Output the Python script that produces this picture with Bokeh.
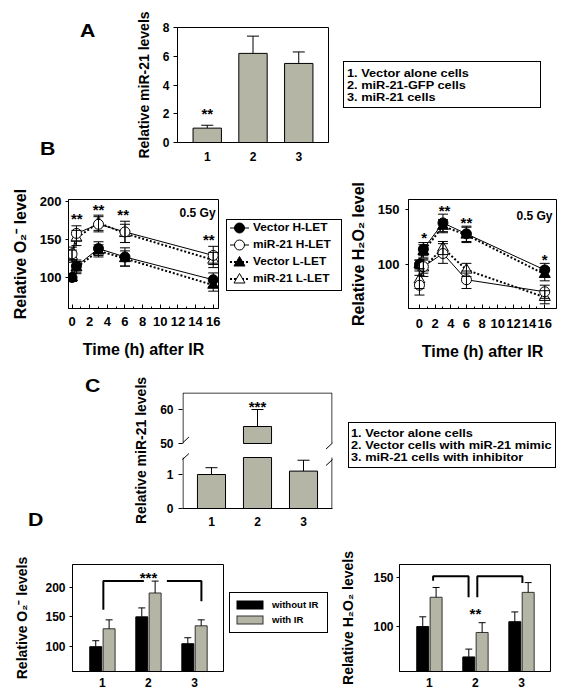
from bokeh.plotting import figure
from bokeh.models import (Range1d, FixedTicker, Whisker, TeeHead, Arrow, ColumnDataSource,
                          Div, Spacer)
from bokeh.layouts import row, column
from bokeh.embed import file_html
from bokeh.resources import INLINE
from bokeh.core.properties import value

FONT = "Liberation Sans"
GREY = "#B5B5A6"

# ---------------- Panel A ----------------
a_groups = [1, 2, 3]
a_tick_labels = ["1", "2", "3"]
a_values = [1.0, 6.2, 5.5]
a_errors = [0.2, 1.2, 0.8]
a_yticks = [0, 2, 4, 6, 8]
a_legend_lines = ["1. Vector alone cells", "2. miR-21-GFP cells", "3. miR-21 cells"]
a_sig_x = [1]
a_sig_y = [2.3]
a_sig = ["**"]

# ---------------- Panel B ----------------
b_time = [0, 0.5, 3, 6, 16]
b_xticks = [0, 2, 4, 6, 8, 10, 12, 14, 16]
b_xminor = [1, 3, 5, 7, 9, 11, 13, 15]
b_series = ["Vector H-LET", "miR-21 H-LET", "Vector L-LET", "miR-21 L-LET"]

o2_vec_h = [100, 115, 138, 127, 97]
o2_vec_h_err = [5, 8, 9, 12, 9]
o2_mir_h = [131, 158, 170, 160, 129]
o2_mir_h_err = [9, 10, 10, 14, 12]
o2_vec_l = [100, 113, 135, 125, 90]
o2_vec_l_err = [5, 8, 8, 10, 8]
o2_mir_l = [128, 152, 172, 158, 123]
o2_mir_l_err = [8, 10, 10, 12, 10]
o2_yticks = [100, 150, 200]
o2_sig_t = [0.54, 3.0, 5.8, 15.5]
o2_sig_y = [183, 195, 188, 155]
o2_sig = ["**", "**", "**", "**"]

h2_vec_h = [100, 114, 138, 128, 95]
h2_vec_h_err = [4, 6, 8, 7, 6]
h2_mir_h = [81, 98, 110, 86, 75]
h2_mir_h_err = [9, 6, 9, 8, 6]
h2_vec_l = [100, 112, 135, 127, 91]
h2_vec_l_err = [4, 6, 6, 7, 6]
h2_mir_l = [86, 97, 115, 95, 70]
h2_mir_l_err = [8, 8, 6, 6, 6]
h2_yticks = [100, 150]
h2_sig_t = [0.6, 3.2, 6.0, 16.0]
h2_sig_y = [128, 153, 142, 108]
h2_sig = ["*", "**", "**", "*"]
dose_text = "0.5 Gy"

# ---------------- Panel C ----------------
c_groups = [1, 2, 3]
c_tick_labels = ["1", "2", "3"]
c_values = [1.0, 55.0, 1.1]
c_errors = [0.2, 5.0, 0.32]
c_yticks = [0, 1, 50, 60]
c_legend_lines = ["1. Vector alone cells", "2. Vector cells with miR-21 mimic",
                  "3. miR-21 cells with inhibitor"]
c_sig_x = [2]
c_sig_y = [62]
c_sig = ["***"]

# ---------------- Panel D ----------------
d_groups = [1, 2, 3]
d_tick_labels = ["1", "2", "3"]
d_series = ["without IR", "with IR"]
d_o2_without = [100, 150, 105]
d_o2_without_err = [10, 15, 10]
d_o2_with = [130, 190, 135]
d_o2_with_err = [15, 20, 10]
d_o2_yticks = [100, 150, 200]
d_o2_bracket_x = [[1.02, 1.02, 1.9], [2.4, 3.15, 3.15]]
d_o2_bracket_y = [[162, 210, 210], [210, 210, 176]]
d_o2_sig_x, d_o2_sig_y, d_o2_sig = [2.0], [223], ["***"]

d_h2_without = [100, 69, 105]
d_h2_without_err = [10, 8, 10]
d_h2_with = [130, 94, 135]
d_h2_with_err = [10, 10, 10]
d_h2_yticks = [100, 150]
d_h2_bracket_x = [[1.08, 1.08, 1.85, 1.85], [2.04, 2.04, 3.02, 3.02]]
d_h2_bracket_y = [[147, 151.5, 151.5, 130], [130, 151.5, 151.5, 144.6]]
d_h2_sig_x, d_h2_sig_y, d_h2_sig = [2.0], [117], ["**"]

panel_letters = ["A", "B", "C", "D"]


# ---------------- helpers ----------------
def base_fig(width, height, xr, yr, bl, br, bt, bb):
    p = figure(width=width, height=height, x_range=Range1d(*xr), y_range=Range1d(*yr),
               min_border_left=bl, min_border_right=br, min_border_top=bt,
               min_border_bottom=bb, toolbar_location=None, output_backend="svg",
               title=None)
    p.grid.visible = False
    p.outline_line_color = "black"
    p.outline_line_width = 1
    p.outline_line_alpha = 1
    p.background_fill_color = "white"
    p.border_fill_color = "white"
    return p


def style_axis(ax, size, tick_in=0, tick_out=0, minor_in=0, minor_out=0, standoff=5,
               label=None, label_size=13, label_standoff=5):
    ax.major_label_text_font = FONT
    ax.major_label_text_font_style = "bold"
    ax.major_label_text_font_size = f"{size}px"
    ax.major_label_text_color = "black"
    ax.major_tick_in = tick_in
    ax.major_tick_out = tick_out
    ax.minor_tick_in = minor_in
    ax.minor_tick_out = minor_out
    ax.major_label_standoff = standoff
    ax.axis_line_color = "black"
    ax.major_tick_line_color = "black"
    ax.minor_tick_line_color = "black"
    if label is not None:
        ax.axis_label = label
        ax.axis_label_text_font = FONT
        ax.axis_label_text_font_style = "bold"
        ax.axis_label_text_font_size = f"{label_size}px"
        ax.axis_label_text_color = "black"
        ax.axis_label_standoff = label_standoff


def add_text(p, xs, ys, texts, size, align="center", baseline="middle", y_offset=0):
    p.text(x=xs, y=ys, text=texts, text_font=value(FONT), text_font_style="bold",
           text_font_size=f"{size}px", text_align=align, text_baseline=baseline,
           text_color="black", y_offset=y_offset)


def add_err(p, xs, lo, hi, head, both=False, lw=1):
    src = ColumnDataSource(dict(x=list(xs), lo=list(lo), hi=list(hi)))
    w = Whisker(source=src, base="x", lower="lo", upper="hi", dimension="height",
                line_color="black", line_width=lw,
                upper_head=TeeHead(size=head, line_color="black", line_width=lw),
                lower_head=TeeHead(size=head, line_color="black", line_width=lw) if both else None)
    w.level = "annotation"
    p.add_layout(w)


CSS_FONT = "font-family:'Liberation Sans',Arial,sans-serif;font-weight:bold;color:#000;"


def span(text, left, center_y, size, sx=1.0):
    top = center_y - size / 2.0
    return (f'<span style="position:absolute;left:{left}px;top:{top}px;font-size:{size}px;'
            f'line-height:{size}px;white-space:nowrap;display:inline-block;'
            f'transform:scaleX({sx});transform-origin:0 50%;{CSS_FONT}">{text}</span>')


def box(left, top, w, h):
    return (f'<div style="position:absolute;left:{left}px;top:{top}px;width:{w}px;height:{h}px;'
            f'border:1px solid #000;box-sizing:border-box;background:#fff;"></div>')


def overlay_div(width, height, inner):
    html = (f'<div style="position:relative;width:{width}px;height:{height}px;overflow:visible;'
            f'{CSS_FONT}">{inner}</div>')
    return Div(text=html, width=width, height=height, margin=0)


# ================= Panel A =================
pA = base_fig(215, 158, (0.35, 3.65), (0, 8), 57, 7, 19, 24)
pA.vbar(x=a_groups, top=a_values, bottom=0, width=0.62, fill_color=GREY,
        line_color="black", line_width=1)
add_err(pA, a_groups, a_values, [v + e for v, e in zip(a_values, a_errors)], 12)
add_text(pA, a_sig_x, a_sig_y, a_sig, 15, y_offset=4)
pA.yaxis.ticker = FixedTicker(ticks=a_yticks)
pA.xaxis.ticker = FixedTicker(ticks=a_groups)
pA.xaxis.major_label_overrides = {g: t for g, t in zip(a_groups, a_tick_labels)}
style_axis(pA.yaxis[0], 12, tick_out=4, standoff=4, label="Relative miR-21 levels",
           label_size=14, label_standoff=8)
style_axis(pA.xaxis[0], 12, standoff=9)

lettersAB = overlay_div(112, 158, span(panel_letters[0], 72, 22, 19, 1.12) +
                        span(panel_letters[1], 32, 140, 19, 1.12))

legA_inner = box(8, 53, 198, 47) + "".join(
    span(t, 12, y, 11.6, 1.1) for t, y in zip(a_legend_lines, [65, 77, 89]))
legA = overlay_div(222, 158, legA_inner)


# ================= Panel B =================
def make_b(width, bl, br, bt, bb, xr, yr, yticks, ylabel, vh, vhe, mh, mhe, vl, vle, ml, mle,
           sig_t, sig_y, sig, dose_xy, ystand, xstand):
    p = base_fig(width, 196, xr, yr, bl, br, bt, bb)
    for vals in (vl, ml):
        p.line(b_time, vals, line_color="black", line_width=2, line_dash="2 2")
    for vals in (vh, mh):
        p.line(b_time, vals, line_color="black", line_width=1)
    specs = [(vl, vle, "triangle", "black", 11), (vh, vhe, "circle", "black", 10),
             (ml, mle, "triangle", "white", 11), (mh, mhe, "circle", "white", 10)]
    for vals, errs, m, fill, sz in specs:
        p.scatter(b_time, vals, marker=m, size=sz, fill_color=fill, line_color="black",
                  line_width=1)
        add_err(p, b_time, [v - e for v, e in zip(vals, errs)],
                [v + e for v, e in zip(vals, errs)], 10, both=True)
    add_text(p, sig_t, sig_y, sig, 15, y_offset=4)
    add_text(p, [dose_xy[0]], [dose_xy[1]], [dose_text], 12, align="right")
    p.xaxis.ticker = FixedTicker(ticks=b_xticks, minor_ticks=b_xminor)
    p.yaxis.ticker = FixedTicker(ticks=yticks)
    style_axis(p.xaxis[0], 13, tick_in=4, minor_in=2, standoff=xstand,
               label="Time (h) after IR", label_size=16, label_standoff=12)
    style_axis(p.yaxis[0], 13, tick_out=3, standoff=ystand, label=ylabel, label_size=16,
               label_standoff=8)
    return p


pBL = make_b(214, 57, 4, 33, 54, (-0.4, 16.6), (59.2, 202.6), o2_yticks,
             "Relative O\u2082\u207b level",
             o2_vec_h, o2_vec_h_err, o2_mir_h, o2_mir_h_err, o2_vec_l, o2_vec_l_err,
             o2_mir_l, o2_mir_l_err, o2_sig_t, o2_sig_y, o2_sig, (16.27, 184.2), 4, 8)
pBR = make_b(211, 60, 1, 30, 53, (-1.4, 17.5), (59.7, 159.4), h2_yticks,
             "Relative H\u2082O\u2082 level",
             h2_vec_h, h2_vec_h_err, h2_mir_h, h2_mir_h_err, h2_vec_l, h2_vec_l_err,
             h2_mir_l, h2_mir_l_err, h2_sig_t, h2_sig_y, h2_sig, (16.99, 144.4), 6, 10)

# legend B: icons drawn as inline SVG, labels as text
b_leg_styles = [("", 1, "circle", "#000"), ("", 1, "circle", "#fff"),
                ("2 2", 2, "triangle", "#000"), ("2 2", 2, "triangle", "#fff")]
b_rows = [62, 79, 96, 113]
svg_parts = []
for (dash, lw, m, fill), cy in zip(b_leg_styles, b_rows):
    da = f' stroke-dasharray="{dash}"' if dash else ""
    svg_parts.append(f'<line x1="8" y1="{cy}" x2="27" y2="{cy}" stroke="#000" '
                     f'stroke-width="{lw}"{da}/>')
    if m == "circle":
        svg_parts.append(f'<circle cx="17.5" cy="{cy}" r="5" fill="{fill}" stroke="#000" '
                         f'stroke-width="1"/>')
    else:
        svg_parts.append(f'<polygon points="17.5,{cy - 5.5} 12,{cy + 4} 23,{cy + 4}" '
                         f'fill="{fill}" stroke="#000" stroke-width="1"/>')
legB_inner = (box(4, 53, 116, 72) +
              '<svg width="124" height="196" style="position:absolute;left:0;top:0;">' +
              "".join(svg_parts) + "</svg>" +
              "".join(span(t, 31, y, 11.2, 1.06) for t, y in zip(b_series, b_rows)))
legB = overlay_div(124, 196, legB_inner)


# ================= Panel C (broken axis) =================
C_LOW_TOP = 1.5      # lower segment 0..1.5
C_UP_BOTTOM = 50.0   # upper segment 50..65
C_LOW_PX = 34.0
C_UP_PX = 3.4
C_GAP = 14.0
C_XR = (0.37, 3.63)
C_YTOP = 116


def c_disp(v):
    if v <= C_LOW_TOP:
        return v * C_LOW_PX
    return C_LOW_TOP * C_LOW_PX + C_GAP + (v - C_UP_BOTTOM) * C_UP_PX


pC = base_fig(223, 168, C_XR, (0, C_YTOP), 62, 11, 30, 22)
pC.outline_line_color = None
low_top = [min(c_disp(v), c_disp(C_LOW_TOP)) for v in c_values]
pC.vbar(x=c_groups, top=low_top, bottom=0, width=0.61, fill_color=GREY,
        line_color="black", line_width=1)
up_x = [g for g, v in zip(c_groups, c_values) if v > C_LOW_TOP]
up_top = [c_disp(v) for v in c_values if v > C_LOW_TOP]
pC.vbar(x=up_x, top=up_top, bottom=c_disp(C_LOW_TOP) + C_GAP, width=0.61,
        fill_color=GREY, line_color="black", line_width=1)
add_err(pC, c_groups, [c_disp(v) for v in c_values],
        [c_disp(v + e) for v, e in zip(c_values, c_errors)], 12)
add_text(pC, c_sig_x, [c_disp(v) for v in c_sig_y], c_sig, 15, y_offset=4)
c_tick_pos = [int(round(c_disp(v))) for v in c_yticks]
pC.yaxis.ticker = FixedTicker(ticks=c_tick_pos)
pC.yaxis.major_label_overrides = {t: str(v) for t, v in zip(c_tick_pos, c_yticks)}
pC.xaxis.ticker = FixedTicker(ticks=c_groups)
pC.xaxis.major_label_overrides = {g: t for g, t in zip(c_groups, c_tick_labels)}
style_axis(pC.yaxis[0], 12, tick_out=4, standoff=5, label="Relative miR-21 levels",
           label_size=14, label_standoff=8)
pC.yaxis[0].axis_line_color = None
style_axis(pC.xaxis[0], 12, standoff=8)
lo_break = c_disp(C_LOW_TOP)
up_break = lo_break + C_GAP
# frame with a break on both sides (half a pixel inside the frame edges)
dx = 0.5 * (C_XR[1] - C_XR[0]) / 150.0
xl, xr_ = C_XR[0] + dx, C_XR[1] - dx
ytop = C_YTOP - 0.5
pC.multi_line(xs=[[xl, xl], [xl, xl], [xr_, xr_], [xr_, xr_], [xl, xr_]],
              ys=[[0, lo_break], [up_break, ytop], [0, lo_break], [up_break, ytop],
                  [ytop, ytop]], line_color="black", line_width=1)
for xc in (C_XR[0], C_XR[1]):
    for yc in (lo_break - 2, up_break + 0.5):
        a = Arrow(end=None, x_start=xc - 0.14, y_start=yc - 6,
                  x_end=xc + 0.14, y_end=yc + 6, line_color="black", line_width=1)
        a.level = "overlay"
        pC.add_layout(a)

lettersCD = overlay_div(112, 168, span(panel_letters[2], 77, 23, 19, 1.12) +
                        span(panel_letters[3], 20, 157.5, 19, 1.12))

legC_inner = box(5, 60, 208, 46) + "".join(
    span(t, 8, y, 11.6, 1.1) for t, y in zip(c_legend_lines, [71, 83, 95]))
legC = overlay_div(214, 168, legC_inner)


# ================= Panel D =================
D_OFF = 0.145
D_W = 0.26


def make_d(width, bl, br, bt, bb, yr, yticks, ylabel, wo, woe, wi, wie, bx, by,
           sx, sy, sig, ystand, xstand, lstand):
    p = base_fig(width, 161, (0.35, 3.63), yr, bl, br, bt, bb)
    xb = [g - D_OFF for g in d_groups]
    xg = [g + D_OFF for g in d_groups]
    p.vbar(x=xb, top=wo, bottom=0, width=D_W, fill_color="black", line_color="black")
    p.vbar(x=xg, top=wi, bottom=0, width=D_W, fill_color=GREY, line_color="#333333")
    add_err(p, xb, wo, [v + e for v, e in zip(wo, woe)], 7)
    add_err(p, xg, wi, [v + e for v, e in zip(wi, wie)], 7)
    p.multi_line(xs=bx, ys=by, line_color="black", line_width=2)
    add_text(p, sx, sy, sig, 15, y_offset=4)
    p.yaxis.ticker = FixedTicker(ticks=yticks)
    p.xaxis.ticker = FixedTicker(ticks=d_groups)
    p.xaxis.major_label_overrides = {g: t for g, t in zip(d_groups, d_tick_labels)}
    style_axis(p.yaxis[0], 12, tick_out=3, standoff=ystand, label=ylabel, label_size=14,
               label_standoff=lstand)
    style_axis(p.xaxis[0], 12, standoff=xstand)
    return p


pDL = make_d(219, 64, 4, 32, 20, (58.4, 237.8), d_o2_yticks, "Relative O\u2082\u207b levels",
             d_o2_without, d_o2_without_err, d_o2_with, d_o2_with_err,
             d_o2_bracket_x, d_o2_bracket_y, d_o2_sig_x, d_o2_sig_y, d_o2_sig, 4, 6, 12)
pDR = make_d(224, 66, 7, 34, 19, (54.1, 163.5), d_h2_yticks, "Relative H\u2082O\u2082 levels",
             d_h2_without, d_h2_without_err, d_h2_with, d_h2_with_err,
             d_h2_bracket_x, d_h2_bracket_y, d_h2_sig_x, d_h2_sig_y, d_h2_sig, 3, 6, 14)

d_rows = [75, 90]
d_svg = "".join(
    f'<rect x="10" y="{cy - 4}" width="26" height="8" fill="{fill}" stroke="{lc}" stroke-width="1"/>'
    for cy, fill, lc in zip(d_rows, ["#000", GREY], ["#000", "#333"]))
legD_inner = (box(2, 62, 99, 41) +
              '<svg width="106" height="161" style="position:absolute;left:0;top:0;">' +
              d_svg + "</svg>" +
              "".join(span(t, 45, y, 9.6) for t, y in zip(d_series, d_rows)))
legD = overlay_div(106, 161, legD_inner)

bands = column(
    row(lettersAB, pA, legA),
    row(pBL, legB, pBR),
    row(lettersCD, pC, legC),
    row(pDL, legD, pDR),
)
layout = row(Spacer(width=8, height=1), column(Spacer(width=1, height=8), bands))

with open("out.html", "w") as f:
    f.write(file_html(layout, INLINE))
